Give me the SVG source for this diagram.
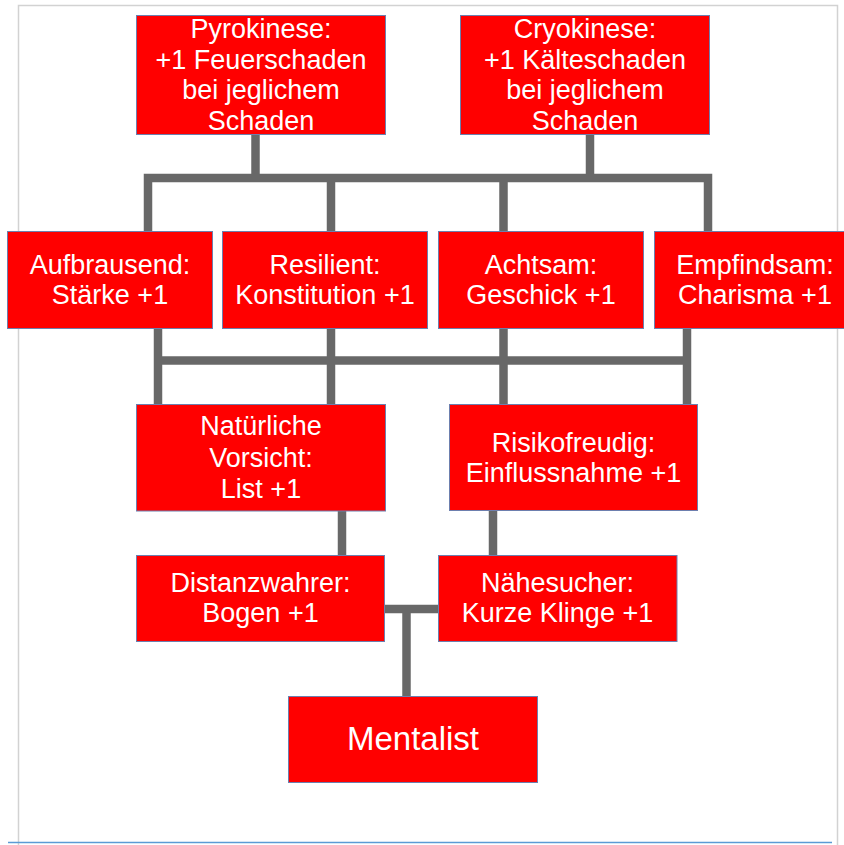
<svg xmlns="http://www.w3.org/2000/svg" width="844" height="845" viewBox="0 0 844 845">
<style>
.box{fill:#ff0000;stroke:#6d7fae;stroke-width:1}
.t{fill:#ffffff;font-family:"Liberation Sans",Arial,sans-serif;font-size:27px;text-anchor:middle}
.big{font-size:33px}
.c{fill:none;stroke:#686868;stroke-width:8.5;stroke-linejoin:miter;stroke-linecap:butt}
</style>
<rect x="0" y="0" width="844" height="845" fill="#ffffff"/>
<path d="M18.5,850 V5.5 H837.5 V850" fill="none" stroke="#d2d2d2" stroke-width="1.5"/>
<line x1="8" y1="842.5" x2="832" y2="842.5" stroke="#5b9bd5" stroke-width="1.5"/>
<g id="connectors">
<path class="c" d="M255.5,134 V178"/>
<path class="c" d="M590,134 V178"/>
<path class="c" d="M148,231 V178 H708 V231"/>
<path class="c" d="M331,178 V231"/>
<path class="c" d="M503.5,178 V231"/>
<path class="c" d="M158,328 V404"/>
<path class="c" d="M331,328 V404"/>
<path class="c" d="M503.5,328 V404"/>
<path class="c" d="M687,328 V404"/>
<path class="c" d="M158,360.5 H687"/>
<path class="c" d="M342,511 V555"/>
<path class="c" d="M493,510 V555"/>
<path class="c" d="M384,609 H438"/>
<path class="c" d="M406.5,609 V696"/>
</g>
<g id="pyrokinese">
<rect class="box" x="136.5" y="15.5" width="249" height="119"/>
<text class="t" x="261" y="38">Pyrokinese:</text>
<text class="t" x="261" y="68.5">+1 Feuerschaden</text>
<text class="t" x="261" y="99">bei jeglichem</text>
<text class="t" x="261" y="129.5">Schaden</text>
</g>
<g id="cryokinese">
<rect class="box" x="460.5" y="15.5" width="249" height="119"/>
<text class="t" x="585" y="38">Cryokinese:</text>
<text class="t" x="585" y="68.5">+1 Kälteschaden</text>
<text class="t" x="585" y="99">bei jeglichem</text>
<text class="t" x="585" y="129.5">Schaden</text>
</g>
<g id="aufbrausend">
<rect class="box" x="7.5" y="231.5" width="205" height="97"/>
<text class="t" x="110" y="273.5">Aufbrausend:</text>
<text class="t" x="110" y="303.5">Stärke +1</text>
</g>
<g id="resilient">
<rect class="box" x="222.5" y="231.5" width="205" height="97"/>
<text class="t" x="325" y="273.5">Resilient:</text>
<text class="t" x="325" y="303.5">Konstitution +1</text>
</g>
<g id="achtsam">
<rect class="box" x="438.5" y="231.5" width="205" height="97"/>
<text class="t" x="541" y="273.5">Achtsam:</text>
<text class="t" x="541" y="303.5">Geschick +1</text>
</g>
<g id="empfindsam">
<rect class="box" x="654.5" y="231.5" width="205" height="97"/>
<text class="t" x="755" y="273.5">Empfindsam:</text>
<text class="t" x="755" y="303.5">Charisma +1</text>
</g>
<g id="natuerliche-vorsicht">
<rect class="box" x="136.5" y="404.5" width="249" height="106.5"/>
<text class="t" x="261" y="435">Natürliche</text>
<text class="t" x="261" y="466.5">Vorsicht:</text>
<text class="t" x="261" y="498">List +1</text>
</g>
<g id="risikofreudig">
<rect class="box" x="449.5" y="404.5" width="248" height="106"/>
<text class="t" x="573.5" y="452">Risikofreudig:</text>
<text class="t" x="573.5" y="482">Einflussnahme +1</text>
</g>
<g id="distanzwahrer">
<rect class="box" x="136.5" y="555.5" width="248" height="86"/>
<text class="t" x="260.5" y="592">Distanzwahrer:</text>
<text class="t" x="260.5" y="622">Bogen +1</text>
</g>
<g id="naehesucher">
<rect class="box" x="438.5" y="555.5" width="238.5" height="86"/>
<text class="t" x="557.5" y="592">Nähesucher:</text>
<text class="t" x="557.5" y="622">Kurze Klinge +1</text>
</g>
<g id="mentalist">
<rect class="box" x="288.5" y="696.5" width="249" height="86"/>
<text class="t big" x="413" y="750">Mentalist</text>
</g>
</svg>
